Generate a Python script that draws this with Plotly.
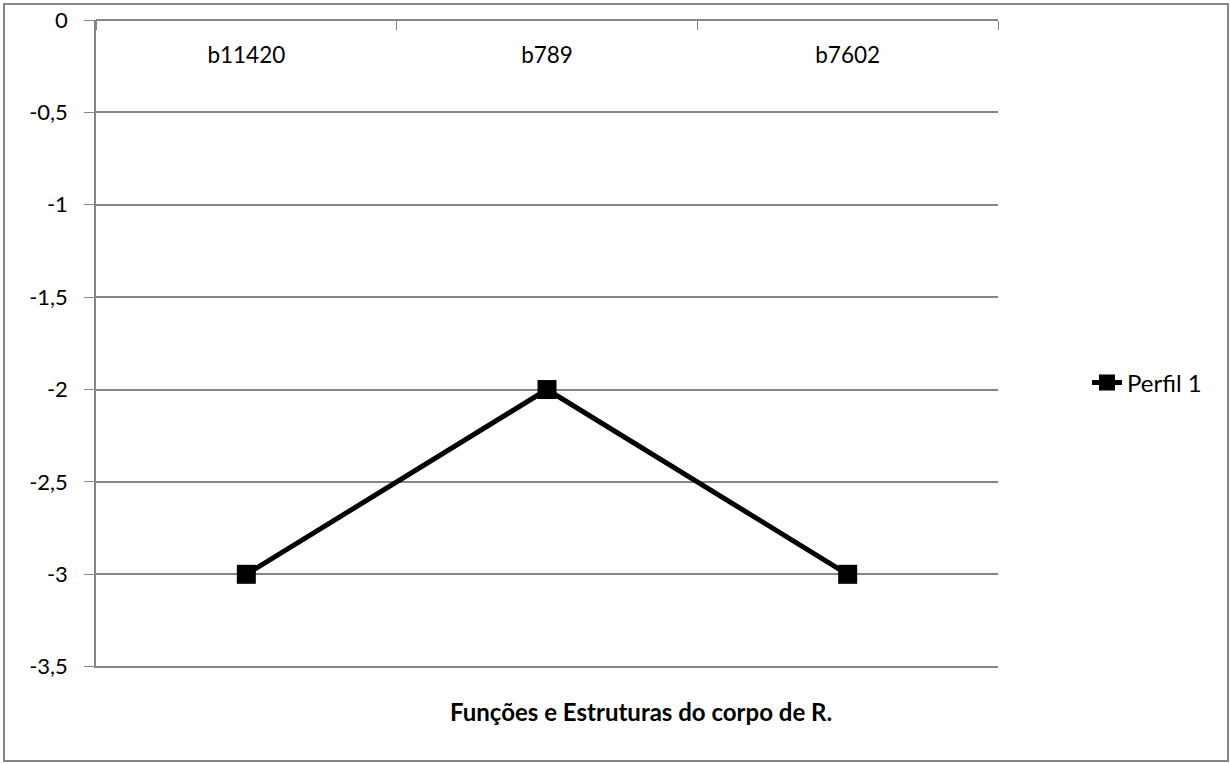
import plotly.graph_objects as go

categories = ["b11420", "b789", "b7602"]
perfil_1 = [-3, -2, -3]

y_ticks = [0, -0.5, -1, -1.5, -2, -2.5, -3, -3.5]
y_tick_text = ["0", "-0,5", "-1", "-1,5", "-2", "-2,5", "-3", "-3,5"]

GRID = "#868686"
FONT = "Lato, 'Open Sans', sans-serif"

# plot area in px: x 96..998, y 20..668
PW, PH = 902, 648

fig = go.Figure()
fig.add_trace(
    go.Scatter(
        x=categories,
        y=perfil_1,
        mode="lines+markers",
        name="Perfil 1",
        line=dict(color="#000000", width=5),
        marker=dict(symbol="square", size=19, color="#000000"),
    )
)

fig.update_layout(
    width=1230,
    height=763,
    margin=dict(l=96, r=232, t=20, b=95, autoexpand=False),
    paper_bgcolor="white",
    plot_bgcolor="white",
    font=dict(family=FONT, size=22, color="#000000"),
    showlegend=True,
    legend=dict(
        x=(1087 - 96) / PW, y=0.44, xanchor="left", yanchor="middle",
        font=dict(size=24), bgcolor="rgba(0,0,0,0)",
    ),
    xaxis=dict(
        type="category",
        range=[-0.5, 2.5],
        anchor="free",
        position=1,
        side="bottom",
        automargin=False,
        showgrid=False,
        showline=True,
        linecolor=GRID,
        linewidth=1.5,
        ticks="outside",
        tickson="boundaries",
        ticklen=9,
        tickcolor=GRID,
        ticklabelstandoff=15,
        tickfont=dict(size=22.5),
    ),
    yaxis=dict(
        # tiny pad below -3.5 so its gridline is still drawn
        range=[-3.507, 0],
        automargin=False,
        tickvals=y_ticks,
        ticktext=y_tick_text,
        showgrid=True,
        gridcolor=GRID,
        gridwidth=1.5,
        zeroline=False,
        showline=True,
        linecolor=GRID,
        linewidth=1.5,
        ticks="outside",
        ticklen=10,
        tickcolor=GRID,
        ticklabelstandoff=12,
        tickfont=dict(size=22),
    ),
    annotations=[
        dict(
            text="<b>Funções e Estruturas do corpo de R.</b>",
            xref="paper", yref="paper",
            x=(641 - 96) / PW, y=(668 - 711) / PH,
            xanchor="center", yanchor="middle",
            showarrow=False, font=dict(size=24),
        )
    ],
    shapes=[
        dict(
            type="rect", xref="paper", yref="paper",
            x0=(4 - 96) / PW, x1=(1228 - 96) / PW,
            y0=(668 - 761) / PH, y1=(668 - 4) / PH,
            line=dict(color=GRID, width=2),
            fillcolor="rgba(0,0,0,0)",
        )
    ],
)

fig.write_html(
    "out.html",
    config={"displayModeBar": False},
    post_script="document.body.style.margin='0';",
)
